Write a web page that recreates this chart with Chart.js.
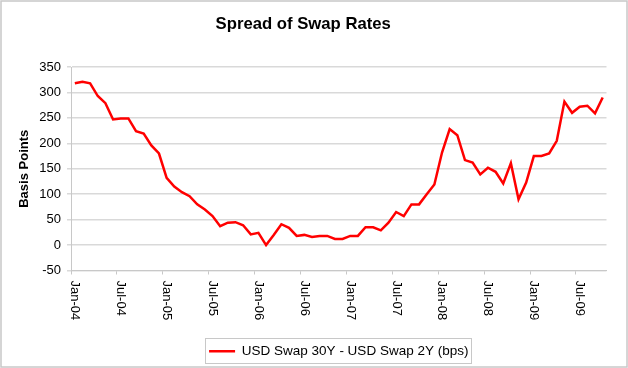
<!doctype html>
<html>

<head>
	<title>Spread of Swap Rates</title>
	<script src="https://cdn.jsdelivr.net/npm/chart.js@4/dist/chart.umd.min.js"></script>
	<style>
		body { margin: 0; background: #fff; }
		canvas { display: block; }
	</style>
</head>

<body>
	<canvas id="chart-area" width="628" height="368"></canvas>
	<script>
		const months = [
			'Jan-04', 'Feb-04', 'Mar-04', 'Apr-04', 'May-04', 'Jun-04', 'Jul-04', 'Aug-04', 'Sep-04', 'Oct-04', 'Nov-04', 'Dec-04',
			'Jan-05', 'Feb-05', 'Mar-05', 'Apr-05', 'May-05', 'Jun-05', 'Jul-05', 'Aug-05', 'Sep-05', 'Oct-05', 'Nov-05', 'Dec-05',
			'Jan-06', 'Feb-06', 'Mar-06', 'Apr-06', 'May-06', 'Jun-06', 'Jul-06', 'Aug-06', 'Sep-06', 'Oct-06', 'Nov-06', 'Dec-06',
			'Jan-07', 'Feb-07', 'Mar-07', 'Apr-07', 'May-07', 'Jun-07', 'Jul-07', 'Aug-07', 'Sep-07', 'Oct-07', 'Nov-07', 'Dec-07',
			'Jan-08', 'Feb-08', 'Mar-08', 'Apr-08', 'May-08', 'Jun-08', 'Jul-08', 'Aug-08', 'Sep-08', 'Oct-08', 'Nov-08', 'Dec-08',
			'Jan-09', 'Feb-09', 'Mar-09', 'Apr-09', 'May-09', 'Jun-09', 'Jul-09', 'Aug-09', 'Sep-09', 'Oct-09'
		];

		// USD Swap 30Y - USD Swap 2Y, basis points
		const spread = [
			318, 321, 318, 293, 279, 247, 249, 249, 224, 219, 196, 180,
			132, 115, 104, 96, 80, 70, 57, 37, 44, 45, 39, 21,
			24, 0, 20, 41, 34, 18, 20, 16, 18, 18, 12, 12,
			18, 18, 35, 35, 29, 44, 65, 57, 80, 80, 100, 119,
			182, 228, 216, 167, 162, 139, 152, 144, 121, 161, 90, 123,
			175, 175, 180, 205, 282, 260, 272, 274, 259, 290
		];

		const seriesName = 'USD Swap 30Y - USD Swap 2Y (bps)';
		const yTicks = { min: -50, max: 350, step: 50 };
		const labelEvery = 6;

		const fontFamily = "'Liberation Sans', Arial, sans-serif";
		Chart.defaults.font.family = fontFamily;
		Chart.defaults.color = '#000';

		// white page, grey frame, and a box round the legend
		const frame = {
			id: 'frame',
			beforeDraw(chart) {
				const ctx = chart.ctx;
				ctx.save();
				ctx.fillStyle = '#fff';
				ctx.fillRect(0, 0, chart.width, chart.height);
				ctx.strokeStyle = '#c8c8c8';
				ctx.lineWidth = 1.5;
				ctx.strokeRect(1, 1, chart.width - 2, chart.height - 2);
				ctx.restore();
			},
			afterDraw(chart) {
				const hb = chart.legend.legendHitBoxes[0];
				if (!hb) return;
				const ctx = chart.ctx;
				const cy = hb.top + hb.height / 2;
				ctx.save();
				ctx.strokeStyle = '#c8c8c8';
				ctx.lineWidth = 1;
				ctx.strokeRect(Math.round(hb.left - 4) + 0.5, Math.round(cy - 13) + 0.5, Math.round(hb.width + 7), 25);
				ctx.restore();
			}
		};

		// x labels read top to bottom, as in the original
		const monthLabels = {
			id: 'monthLabels',
			afterDraw(chart) {
				const x = chart.scales.x;
				const ctx = chart.ctx;
				ctx.save();
				ctx.font = '13px ' + fontFamily;
				ctx.fillStyle = '#000';
				ctx.textAlign = 'left';
				ctx.textBaseline = 'middle';
				months.forEach((m, i) => {
					if (i % labelEvery) return;
					ctx.save();
					ctx.translate(x.getPixelForTick(i), x.top + 10);
					ctx.rotate(Math.PI / 2);
					ctx.fillText(m, 0, 0);
					ctx.restore();
				});
				ctx.restore();
			}
		};

		const config = {
			type: 'line',
			data: {
				labels: months,
				datasets: [{
					label: seriesName,
					data: spread,
					borderColor: '#ff0000',
					backgroundColor: '#ff0000',
					borderWidth: 2.5,
					pointRadius: 0,
					tension: 0
				}]
			},
			options: {
				responsive: false,
				animation: false,
				layout: { padding: { left: 0, right: 21.5, top: 0, bottom: 0 } },
				scales: {
					x: {
						type: 'category',
						offset: true,
						afterFit(scale) { scale.height = 71; },
						grid: {
							offset: true,
							drawOnChartArea: false,
							drawTicks: true,
							tickLength: 4,
							color: (c) => (c.index !== undefined && c.index % labelEvery === 0) ? '#c8c8c8' : 'rgba(0,0,0,0)'
						},
						border: { color: '#c8c8c8', width: 1 },
						ticks: { display: false, autoSkip: false }
					},
					y: {
						min: yTicks.min,
						max: yTicks.max,
						afterFit(scale) { scale.width = 71; },
						ticks: {
							stepSize: yTicks.step,
							padding: 6,
							font: { size: 13 },
							color: '#000'
						},
						grid: {
							color: '#d9d9d9',
							lineWidth: 1.5,
							tickLength: 4
						},
						border: { color: '#c8c8c8', width: 1 },
						title: {
							display: true,
							text: 'Basis Points',
							font: { size: 13, weight: 'bold' },
							padding: { top: 16.5, bottom: 0 },
							color: '#000'
						}
					}
				},
				plugins: {
					title: {
						display: true,
						text: 'Spread of Swap Rates',
						font: { size: 16.7, weight: 'bold' },
						padding: { top: 14.8, bottom: 32.2 },
						color: '#000'
					},
					legend: {
						position: 'bottom',
						fullSize: false,
						labels: {
							usePointStyle: true,
							pointStyle: 'line',
							pointStyleWidth: 26,
							boxHeight: 3,
							padding: 3,
							font: { size: 13.5 },
							color: '#000'
						}
					},
					tooltip: { enabled: false }
				}
			},
			plugins: [frame, monthLabels]
		};

		window.onload = function() {
			const ctx = document.getElementById('chart-area').getContext('2d');
			window.myLine = new Chart(ctx, config);
		};
	</script>
</body>

</html>
